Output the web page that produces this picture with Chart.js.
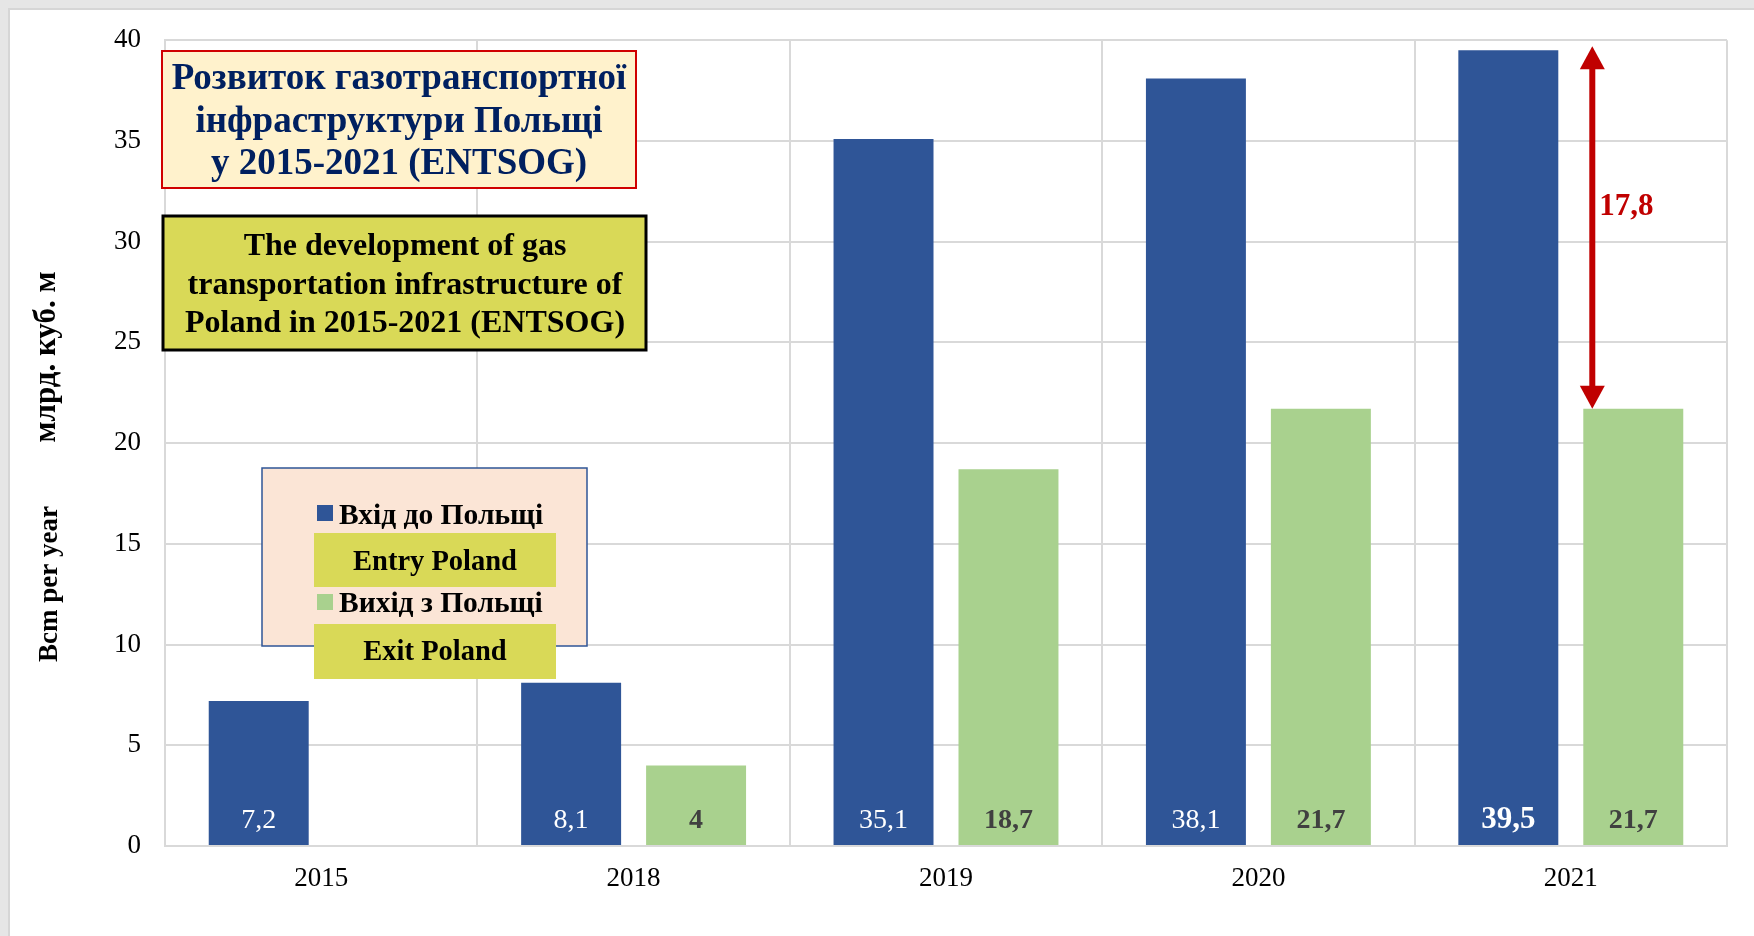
<!DOCTYPE html>
<html>
<head>
<meta charset="utf-8">
<script src="https://cdn.jsdelivr.net/npm/chart.js@4.4.1/dist/chart.umd.min.js"></script>
<style>
  html, body { margin: 0; padding: 0; background: #e6e6e6; overflow: hidden; }
  #panel { position: absolute; left: 8px; top: 8px; right: 0; bottom: 0; background: #fff;
           border-left: 2px solid #d6d6d6; border-top: 2px solid #d6d6d6; }
  #chart { position: absolute; left: 0; top: 0; }
</style>
</head>
<body>
<div id="panel"></div>
<canvas id="chart" width="1754" height="936"></canvas>
<script>
// data
const years = ['2015', '2018', '2019', '2020', '2021'];
const entryPoland = [7.2, 8.1, 35.1, 38.1, 39.5];
const exitPoland = [null, 4, 18.7, 21.7, 21.7];
const entryLabel = 'Вхід до Польщі';
const exitLabel = 'Вихід з Польщі';
const gapLabel = '17,8';

const titleUa = ['Розвиток газотранспортної', 'інфраструктури Польщі', 'у 2015-2021 (ENTSOG)'];
const titleEn = ['The development of gas', 'transportation infrastructure of', 'Poland in 2015-2021 (ENTSOG)'];

const blue = '#2f5597';
const green = '#a9d18e';
const grid = '#d9d9d9';
const serif = '"Liberation Serif", "Times New Roman", serif';

function fmt(v) {
  return String(v).replace('.', ',');
}

function text(ctx, s, x, y, font, color, align) {
  ctx.font = font;
  ctx.fillStyle = color;
  ctx.textAlign = align || 'center';
  ctx.textBaseline = 'alphabetic';
  ctx.fillText(s, x, y);
}

const overlay = {
  id: 'overlay',
  afterDatasetsDraw(chart) {
    const ctx = chart.ctx;
    const base = chart.scales.y.getPixelForValue(0);
    ctx.save();
    // labels at the foot of each bar, the last entry value is highlighted
    chart.getDatasetMeta(0).data.forEach((bar, i) => {
      const font = i === entryPoland.length - 1 ? 'bold 31px ' : '28px ';
      text(ctx, fmt(entryPoland[i]), bar.x, base - 18, font + serif, '#ffffff');
    });
    chart.getDatasetMeta(1).data.forEach((bar, i) => {
      if (exitPoland[i] == null) return;
      text(ctx, fmt(exitPoland[i]), bar.x, base - 18, 'bold 28px ' + serif, '#404040');
    });
    ctx.restore();
  },
  afterDraw(chart) {
    const ctx = chart.ctx;
    ctx.save();

    // ukrainian title box
    ctx.fillStyle = '#fff2cc';
    ctx.fillRect(162, 51, 474, 137);
    ctx.strokeStyle = '#d00000';
    ctx.lineWidth = 2;
    ctx.strokeRect(162, 51, 474, 137);
    [89, 132, 174].forEach((y, i) => text(ctx, titleUa[i], 399, y, 'bold 37px ' + serif, '#002060'));

    // english title box
    ctx.fillStyle = '#d9d957';
    ctx.fillRect(163, 216, 483, 134);
    ctx.strokeStyle = '#000';
    ctx.lineWidth = 3;
    ctx.strokeRect(163, 216, 483, 134);
    [255, 294, 332].forEach((y, i) => text(ctx, titleEn[i], 405, y, 'bold 32px ' + serif, '#000'));

    // legend box
    ctx.fillStyle = '#fbe5d6';
    ctx.fillRect(262, 468, 325, 178);
    ctx.strokeStyle = blue;
    ctx.lineWidth = 1.5;
    ctx.strokeRect(262, 468, 325, 178);
    ctx.fillStyle = blue;
    ctx.fillRect(317, 505, 16, 16);
    text(ctx, entryLabel, 339, 524, 'bold 29.5px ' + serif, '#000', 'left');
    ctx.fillStyle = '#d9d957';
    ctx.fillRect(314, 533, 242, 54);
    text(ctx, 'Entry Poland', 435, 570, 'bold 28.5px ' + serif, '#000');
    ctx.fillStyle = green;
    ctx.fillRect(317, 594, 16, 16);
    text(ctx, exitLabel, 339, 612, 'bold 29.5px ' + serif, '#000', 'left');
    ctx.fillStyle = '#d9d957';
    ctx.fillRect(314, 624, 242, 55);
    text(ctx, 'Exit Poland', 435, 660, 'bold 28.5px ' + serif, '#000');

    // gap arrow for the last year
    const y = chart.scales.y;
    const last = entryPoland.length - 1;
    const gbar = chart.getDatasetMeta(1).data[last];
    const ax = gbar.x - gbar.width / 2 + 9;
    const yTop = y.getPixelForValue(entryPoland[last]) - 4;
    const yBot = y.getPixelForValue(exitPoland[last]);
    const red = '#c00000';
    ctx.strokeStyle = red;
    ctx.fillStyle = red;
    ctx.lineWidth = 6;
    ctx.beginPath();
    ctx.moveTo(ax, yTop + 20);
    ctx.lineTo(ax, yBot - 20);
    ctx.stroke();
    ctx.beginPath();
    ctx.moveTo(ax, yTop);
    ctx.lineTo(ax - 12.5, yTop + 23);
    ctx.lineTo(ax + 12.5, yTop + 23);
    ctx.closePath();
    ctx.fill();
    ctx.beginPath();
    ctx.moveTo(ax, yBot);
    ctx.lineTo(ax - 12.5, yBot - 23);
    ctx.lineTo(ax + 12.5, yBot - 23);
    ctx.closePath();
    ctx.fill();
    text(ctx, gapLabel, ax + 7, y.getPixelForValue(31.3), 'bold 31px ' + serif, red, 'left');

    // axis titles
    [['млрд. куб. м', 47, 357, 31], ['Bcm per year', 50, 584, 27]].forEach(([s, x, cy, size]) => {
      ctx.save();
      ctx.translate(x, cy);
      ctx.rotate(-Math.PI / 2);
      ctx.font = 'bold ' + size + 'px ' + serif;
      ctx.fillStyle = '#000';
      ctx.textAlign = 'center';
      ctx.textBaseline = 'middle';
      ctx.fillText(s, 0, 0);
      ctx.restore();
    });

    ctx.restore();
  }
};

new Chart(document.getElementById('chart'), {
  type: 'bar',
  data: {
    labels: years,
    datasets: [
      { label: entryLabel, data: entryPoland, backgroundColor: blue },
      { label: exitLabel, data: exitPoland, backgroundColor: green }
    ]
  },
  options: {
    responsive: false,
    animation: false,
    devicePixelRatio: 1,
    layout: { padding: { left: 0, top: 38, right: 27, bottom: 0 } },
    datasets: {
      bar: { categoryPercentage: 0.8, barPercentage: 0.8 }
    },
    plugins: {
      legend: { display: false },
      title: { display: false },
      tooltip: { enabled: false }
    },
    scales: {
      x: {
        grid: { color: grid, lineWidth: 2, drawTicks: false },
        border: { color: grid, width: 2 },
        ticks: { color: '#000', padding: 17, font: { family: serif, size: 27 } },
        afterFit: (s) => { s.height = 90; }
      },
      y: {
        min: 0,
        max: 40,
        grid: { color: grid, lineWidth: 2, drawTicks: false },
        border: { color: grid, width: 2 },
        ticks: { stepSize: 5, color: '#000', padding: 24, font: { family: serif, size: 27 } },
        afterFit: (s) => { s.width = 165; }
      }
    }
  },
  plugins: [overlay]
});
</script>
</body>
</html>
